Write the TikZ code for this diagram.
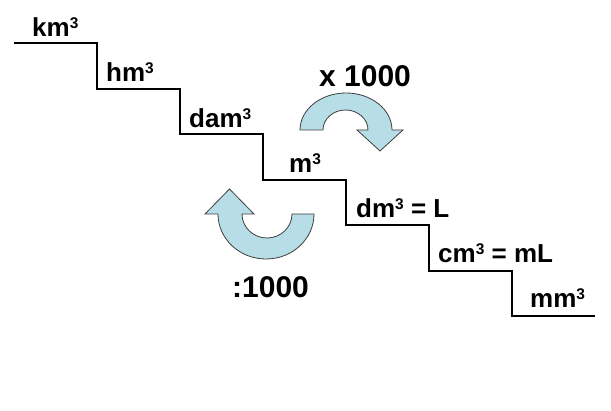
\documentclass[tikz,border=0pt]{standalone}
\usepackage{fontspec}
\setmainfont{Liberation Sans}
\definecolor{arrowfill}{HTML}{B7DDE6}
\definecolor{arrowline}{HTML}{404040}
\newcommand\cub{\raisebox{8pt}{\fontsize{15.5}{15.5}\selectfont 3}}
\begin{document}
\begin{tikzpicture}[x=1pt,y=-1pt,
  lbl/.style={font=\bfseries\fontsize{26}{26}\selectfont, inner sep=0pt, anchor=base west},
  factor/.style={font=\bfseries\fontsize{30}{30}\selectfont, inner sep=0pt, anchor=base west},
  stair/.style={line width=2.2pt, black, line join=miter},
  curved/.style={fill=arrowfill, draw=arrowline, line width=0.8pt, line join=miter}]
\useasboundingbox (0,0) rectangle (611,411);
\fill[white] (0,0) rectangle (611,411);
% staircase
\draw[stair] (14,43) -- (97,43) -- (97,89) -- (180,89) -- (180,134) -- (263,134)
  -- (263,180) -- (346,180) -- (346,225) -- (429,225) -- (429,271) -- (512,271)
  -- (512,316) -- (595,316);
% labels
\node[lbl] (km) at (32,37) {km\cub};
\node[lbl] (hm) at (106,82) {hm\cub};
\node[lbl] (dam) at (189,128) {dam\cub};
\node[lbl] (m) at (289,173) {m\cub};
\node[lbl] (dm) at (356,218) {dm\cub{} = L};
\node[lbl] (cm) at (438,263) {cm\cub{} = mL};
\node[lbl] (mm) at (530,308) {mm\cub};
% multiply arrow (clockwise)
\draw[curved] (300,130) arc[start angle=180, end angle=360, x radius=46, y radius=37]
  -- (403,130) -- (380,151) -- (357,130) -- (368,130)
  arc[start angle=0, end angle=-180, x radius=22.5, y radius=20] -- cycle;
% divide arrow (counter-clockwise)
\draw[curved] (314,214) arc[start angle=0, end angle=180, x radius=48, y radius=45]
  -- (205,214) -- (229.5,189) -- (254,214) -- (242,214)
  arc[start angle=180, end angle=0, x radius=25, y radius=24] -- cycle;
\node[factor] (mul) at (319,87) {x 1000};
\node[factor] (div) at (232,298) {:1000};
\end{tikzpicture}
\end{document}
